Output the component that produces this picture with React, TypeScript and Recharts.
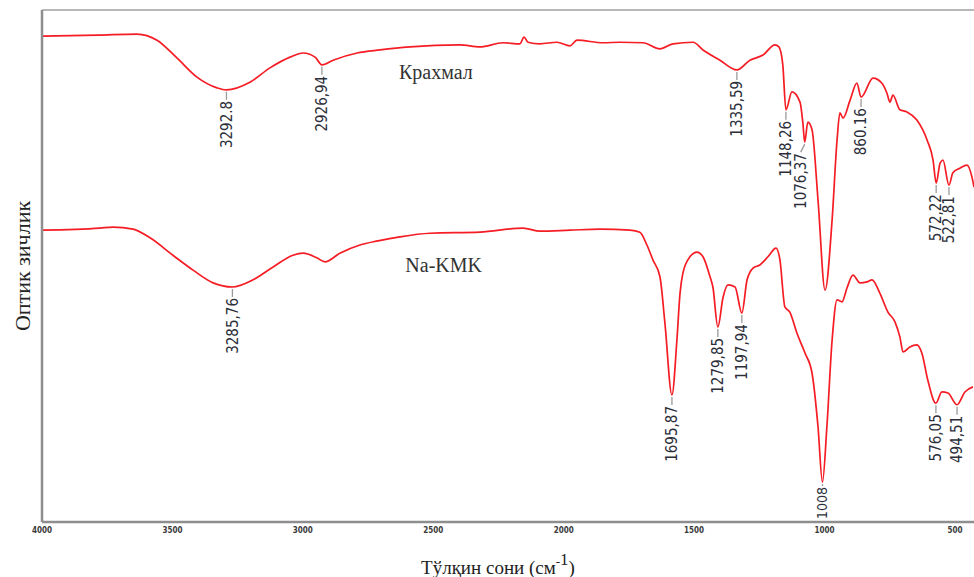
import React from "react";
import {
  LineChart,
  Line,
  XAxis,
  YAxis,
  ReferenceLine,
  ReferenceDot,
} from "recharts";

// Крахмал spectrum, wavenumber (cm-1) and relative optical density
const starchWn = [
  4000, 3785, 3636, 3559, 3482, 3406, 3329, 3293, 3203, 3126, 3049, 2999, 2953,
  2927, 2884, 2792, 2704, 2589, 2398, 2321, 2233, 2168, 2152, 2137, 2091, 2026,
  1976, 1949, 1849, 1784, 1696, 1631, 1581, 1504, 1466, 1401, 1336, 1286, 1236,
  1190, 1175, 1160, 1148, 1125, 1094, 1083, 1076, 1064, 1048, 1025, 998, 971,
  952, 941, 929, 902, 876, 860, 814, 780, 761, 749, 738, 711, 684, 646, 607,
  584, 572, 557, 546, 523, 508, 481, 454, 435, 427,
];
const starchOd = [
  94.9, 95.1, 95.3, 94.1, 90.6, 86.9, 84.8, 84.4, 85.9, 88.7, 90.8, 91.6, 90.8,
  89.3, 90.2, 91.6, 92.2, 92.8, 93.2, 92.8, 93.6, 93.4, 94.7, 93.7, 93.4, 93.7,
  93.0, 94.1, 93.6, 93.7, 93.6, 92.4, 93.4, 93.7, 92.2, 90.2, 88.3, 90.2, 91.2,
  93.2, 92.8, 89.3, 80.5, 84.0, 82.0, 77.9, 74.2, 78.1, 76.6, 62.9, 45.3, 59.0,
  74.6, 79.9, 78.9, 82.4, 85.7, 83.0, 86.7, 85.7, 83.8, 82.0, 83.4, 80.5, 80.1,
  78.5, 74.6, 70.7, 66.2, 70.1, 70.7, 65.8, 68.2, 69.1, 69.7, 67.4, 65.4,
];
const starchPeakWn = [3293, 2927, 1336, 1148, 1076, 860, 572, 523];
const starchPeakText = ["3292.8", "2926,94", "1335,59", "1148,26", "1076,37", "860.16", "572,22", "522,81"];

// Na-KMK spectrum
const cmcWn = [
  4000, 3778, 3728, 3651, 3586, 3498, 3421, 3344, 3270, 3191, 3114, 3038, 2999,
  2946, 2915, 2858, 2781, 2712, 2628, 2513, 2321, 2156, 2091, 1976, 1861, 1746,
  1708, 1681, 1658, 1631, 1612, 1585, 1566, 1554, 1543, 1516, 1489, 1466, 1439,
  1428, 1409, 1389, 1370, 1343, 1317, 1297, 1274, 1248, 1217, 1186, 1171, 1152,
  1133, 1106, 1075, 1048, 1025, 1008, 991, 971, 952, 933, 914, 891, 864, 837,
  818, 788, 757, 730, 711, 699, 673, 646, 627, 604, 573, 550, 527, 492, 462, 431,
];
const cmcOd = [
  57.0, 57.4, 57.6, 57.2, 55.5, 52.1, 49.2, 46.7, 45.9, 47.3, 49.8, 52.1, 52.5,
  51.6, 50.8, 52.5, 54.1, 54.9, 55.7, 56.4, 56.6, 57.4, 56.8, 57.0, 57.2, 57.0,
  56.6, 54.1, 51.2, 47.9, 38.9, 24.8, 35.5, 44.7, 48.6, 51.8, 52.7, 51.8, 47.9,
  45.9, 38.1, 43.9, 46.3, 45.9, 40.8, 47.3, 49.6, 50.2, 51.8, 53.5, 51.2, 42.0,
  41.0, 36.9, 33.0, 29.1, 18.6, 7.8, 18.6, 35.5, 43.4, 43.0, 45.7, 48.2, 46.7,
  46.9, 47.3, 44.7, 41.0, 39.1, 36.1, 33.2, 34.2, 34.6, 33.0, 27.7, 23.2, 25.4,
  25.2, 22.9, 25.4, 26.4,
];
const cmcPeakWn = [3270, 1585, 1409, 1317, 1008, 573, 492];
const cmcPeakText = ["3285,76", "1695,87", "1279,85", "1197,94", "1008", "576,05", "494,51"];

const xTicks = [4000, 3500, 3000, 2500, 2000, 1500, 1000, 500];

const buildSeries = (wn: number[], od: number[], peakWn: number[], peakText: string[]) =>
  wn.map((w, i) => {
    const k = peakWn.indexOf(w);
    return { wn: w, od: od[i], peak: k >= 0 ? peakText[k] : null };
  });

const starchData = buildSeries(starchWn, starchOd, starchPeakWn, starchPeakText);
const cmcData = buildSeries(cmcWn, cmcOd, cmcPeakWn, cmcPeakText);

const RED = "#f51c24";
const narrow = "'Liberation Sans Narrow', 'DejaVu Sans Condensed', Arial, sans-serif";
const serif = "'Liberation Serif', 'Times New Roman', serif";

const PeakDot = (props: any) => {
  const { cx, cy, payload, index } = props;
  if (!payload || !payload.peak || cx == null || cy == null) return <g key={`d-${index}`} />;
  const slant = payload.peak === "1076,37" ? -4 : 0;
  const lead = payload.peak === "1008" ? 5 : 11;
  const tx = cx + slant;
  const top = cy + lead;
  return (
    <g key={`d-${index}`}>
      <line x1={cx} y1={cy + 2} x2={tx} y2={top - 1} stroke="#9a9a9a" strokeWidth={1.3} />
      <text
        x={tx}
        y={top}
        transform={`rotate(-90 ${tx} ${top})`}
        textAnchor="end"
        dy="0.35em"
        fontSize={payload.peak === "1008" ? 14 : 15}
        fontFamily={narrow}
        fill="#2c2f3a"
      >
        {payload.peak}
      </text>
    </g>
  );
};

const YTitle = (props: any) => {
  const vb = props.viewBox || { y: 10, height: 512 };
  const cy = vb.y + vb.height / 2;
  return (
    <text
      x={22}
      y={cy}
      transform={`rotate(-90 22 ${cy})`}
      textAnchor="middle"
      dominantBaseline="central"
      fontSize={22}
      fontFamily={serif}
      fill="#222"
    >
      Оптик зичлик
    </text>
  );
};

const XTitle = () => (
  <text x={498} y={574} textAnchor="middle" fontSize={19} fontFamily={serif} fill="#222">
    Тўлқин сони (см
    <tspan fontSize={13} dy={-8}>-</tspan>
    <tspan fontSize={17} dy={-1}>1</tspan>
    <tspan dy={9}>)</tspan>
  </text>
);

export default function App() {
  return (
    <div style={{ position: "absolute", left: 0, top: 0, width: 974, height: 577, background: "#fff" }}>
      <LineChart width={974} height={577} margin={{ top: 10, right: 0, bottom: 0, left: 0 }}>
        <XAxis
          dataKey="wn"
          type="number"
          domain={[427, 4000]}
          reversed
          allowDataOverflow
          ticks={xTicks}
          tickLine={false}
          tickSize={2}
          tickMargin={3}
          height={55}
          axisLine={{ stroke: "#8e8e8e", strokeWidth: 2.5 }}
          tick={{ fontSize: 8, fontWeight: "bold", fill: "#3a3a3a", fontFamily: "'DejaVu Sans Condensed', sans-serif" }}
          label={<XTitle />}
        />
        <YAxis
          type="number"
          domain={[0, 100]}
          allowDataOverflow
          tick={false}
          tickLine={false}
          width={42}
          axisLine={{ stroke: "#8e8e8e", strokeWidth: 2.5 }}
          label={<YTitle />}
        />
        <ReferenceLine y={100} stroke="#a0a0a0" strokeWidth={1.5} />
        <Line
          data={starchData}
          dataKey="od"
          type="monotone"
          stroke={RED}
          strokeWidth={1.7}
          dot={PeakDot}
          activeDot={false}
          isAnimationActive={false}
        />
        <Line
          data={cmcData}
          dataKey="od"
          type="monotone"
          stroke={RED}
          strokeWidth={1.7}
          dot={PeakDot}
          activeDot={false}
          isAnimationActive={false}
        />
        <ReferenceDot
          x={2490}
          y={87.9}
          r={0}
          label={{ value: "Крахмал", position: "center", fontSize: 20, fontFamily: serif, fill: "#333" }}
        />
        <ReferenceDot
          x={2460}
          y={50.2}
          r={0}
          label={{ value: "Na-KMK", position: "center", fontSize: 20, fontFamily: serif, fill: "#333" }}
        />
      </LineChart>
    </div>
  );
}
